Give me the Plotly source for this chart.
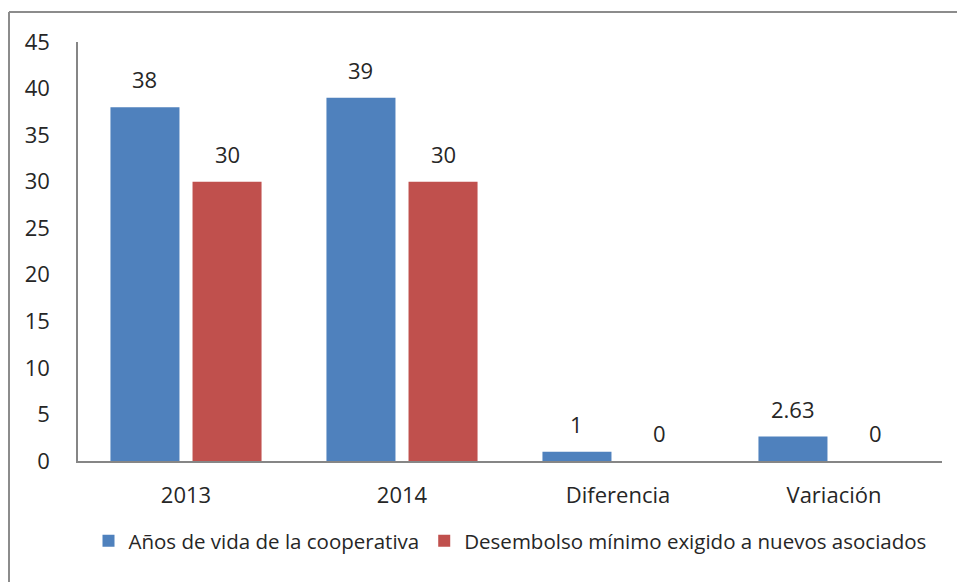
import plotly.graph_objects as go

categories = ["2013", "2014", "Diferencia", "Variación"]
series_names = ["Años de vida de la cooperativa", "Desembolso mínimo exigido a nuevos asociados"]
anos_vida = [38, 39, 1, 2.63]
desembolso = [30, 30, 0, 0]
colors = ["#4F81BD", "#C0504D"]
y_ticks = [0, 5, 10, 15, 20, 25, 30, 35, 40, 45]

FONT = "Open Sans"
TXT = "#262626"

fig = go.Figure()
for name, vals, col in zip(series_names, [anos_vida, desembolso], colors):
    fig.add_trace(go.Bar(x=categories, y=vals, name=name, marker=dict(color=col, line=dict(width=0))))

L, R, T, B = 78, 15, 42, 121
W, H = 957, 582
pw = W - L - R
bargap = 0.24
bargroupgap = 0.159
offset = (1 - bargap) / 4  # centre of each bar within the group, in category units

# data labels above each bar
for vals, sgn in zip([anos_vida, desembolso], [-1, 1]):
    for i, v in enumerate(vals):
        fig.add_annotation(x=i + sgn * offset, y=v, text=f"{v:g}", showarrow=False,
                           yanchor="bottom", yshift=11,
                           font=dict(family=FONT, size=22, color=TXT))

# outer chart border (partially visible: top and left edges)
x0 = (9 - L) / pw
y1 = (H - B - 12) / (H - T - B)
fig.add_shape(type="line", xref="paper", yref="paper", x0=x0, x1=x0, y0=y1, y1=-0.5,
              line=dict(color="#8C8C8C", width=2))
fig.add_shape(type="line", xref="paper", yref="paper", x0=x0, x1=1.2, y0=y1, y1=y1,
              line=dict(color="#8C8C8C", width=2))

fig.update_layout(
    width=W, height=H,
    margin=dict(l=L, r=R, t=T, b=B, autoexpand=False),
    paper_bgcolor="white", plot_bgcolor="white",
    barmode="group", bargap=bargap, bargroupgap=bargroupgap,
    font=dict(family=FONT, size=22, color=TXT),
    showlegend=True,
    legend=dict(orientation="h", x=0.5, xanchor="center", y=(H - B - 541) / (H - T - B),
                yanchor="middle", font=dict(family=FONT, size=20.5, color=TXT),
                itemwidth=30, tracegroupgap=0),
    xaxis=dict(type="category", categoryorder="array", categoryarray=categories,
               range=[-0.5, len(categories) - 0.5], showline=True, linecolor="#868686",
               linewidth=1.5, ticks="", showgrid=False, ticklabelstandoff=14,
               tickfont=dict(size=22), automargin=False),
    yaxis=dict(range=[0, 45], tickvals=y_ticks, showline=True, linecolor="#868686",
               linewidth=1.5, ticks="", showgrid=False, zeroline=False,
               ticklabelstandoff=22, tickfont=dict(size=22), automargin=False),
)
fig.write_html("out.html", config={"displayModeBar": False},
               post_script="document.body.style.margin='0';document.body.style.overflow='hidden';")
